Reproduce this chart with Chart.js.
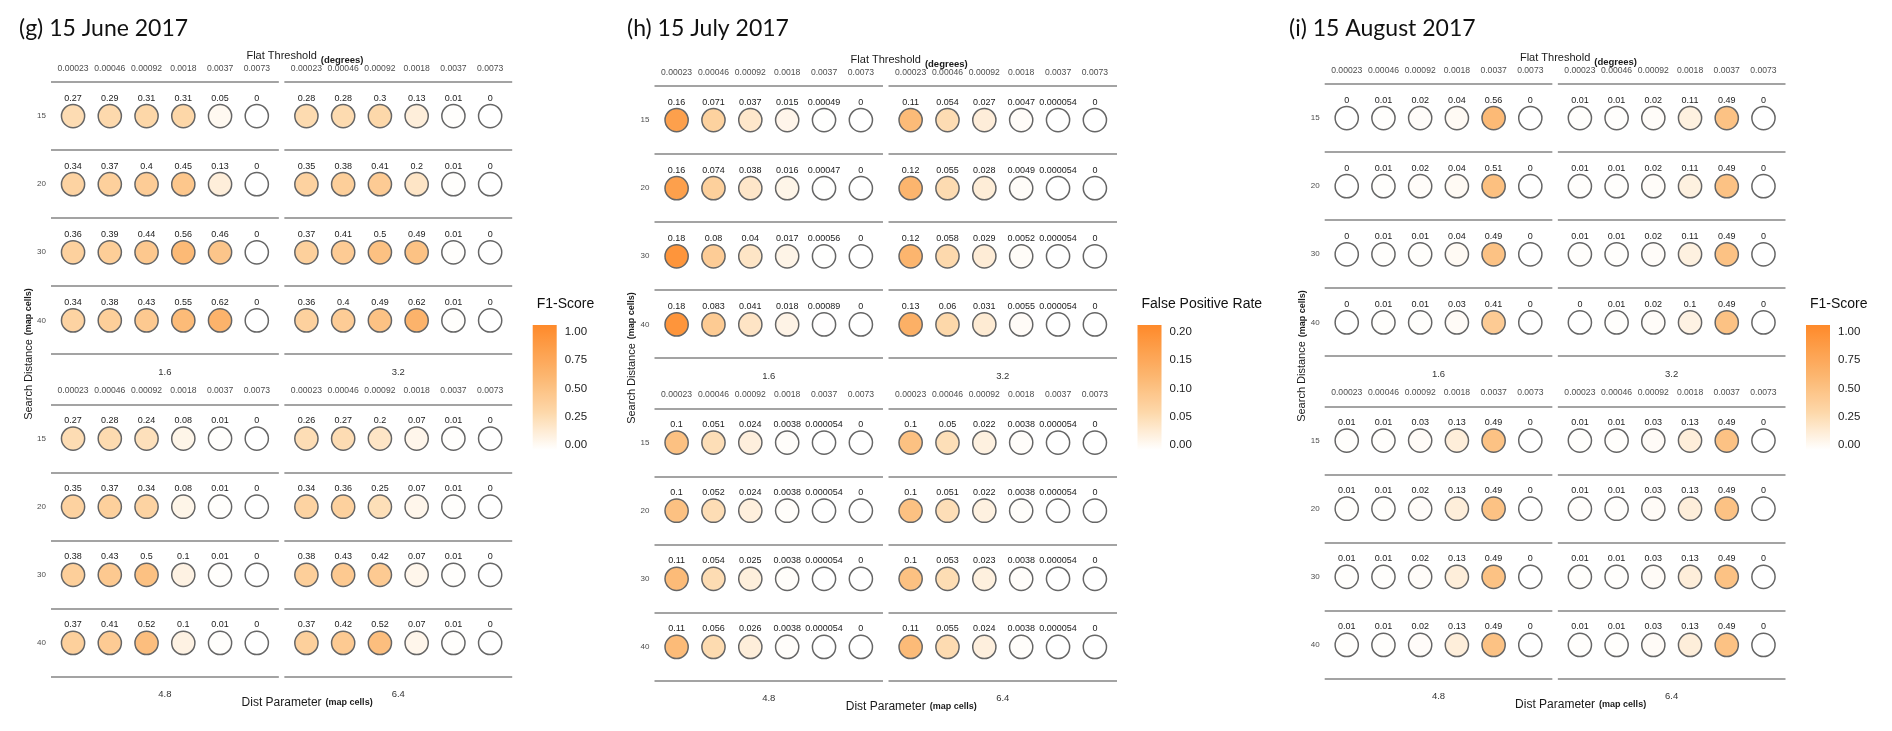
<!DOCTYPE html>
<html>
<head>
<meta charset="utf-8">
<title>F1-Score / False Positive Rate grids</title>
<script src="https://cdn.jsdelivr.net/npm/chart.js@4.4.1/dist/chart.umd.min.js"></script>
<style>
    html, body { margin: 0; padding: 0; background: #fff; }
    #wrap { position: relative; width: 1892px; height: 731px; overflow: hidden; }
    canvas { position: absolute; top: 0; }
</style>
</head>
<body>
<div id="wrap">
    <canvas id="cg" width="624" height="731" style="left:0px"></canvas>
    <canvas id="ch" width="662" height="731" style="left:624px"></canvas>
    <canvas id="ci" width="606" height="731" style="left:1286px"></canvas>
</div>
<script>
// axis categories
const thresholds = ["0.00023", "0.00046", "0.00092", "0.0018", "0.0037", "0.0073"];
const searchDistances = ["15", "20", "30", "40"];
const distParams = ["1.6", "3.2", "4.8", "6.4"];

// (g) 15 June 2017 - F1-Score, one row per search distance (15, 20, 30, 40)
const juneF1_16 = [
    [0.27, 0.29, 0.31, 0.31, 0.05, 0],
    [0.34, 0.37, 0.4, 0.45, 0.13, 0],
    [0.36, 0.39, 0.44, 0.56, 0.46, 0],
    [0.34, 0.38, 0.43, 0.55, 0.62, 0],
];
const juneF1_32 = [
    [0.28, 0.28, 0.3, 0.13, 0.01, 0],
    [0.35, 0.38, 0.41, 0.2, 0.01, 0],
    [0.37, 0.41, 0.5, 0.49, 0.01, 0],
    [0.36, 0.4, 0.49, 0.62, 0.01, 0],
];
const juneF1_48 = [
    [0.27, 0.28, 0.24, 0.08, 0.01, 0],
    [0.35, 0.37, 0.34, 0.08, 0.01, 0],
    [0.38, 0.43, 0.5, 0.1, 0.01, 0],
    [0.37, 0.41, 0.52, 0.1, 0.01, 0],
];
const juneF1_64 = [
    [0.26, 0.27, 0.2, 0.07, 0.01, 0],
    [0.34, 0.36, 0.25, 0.07, 0.01, 0],
    [0.38, 0.43, 0.42, 0.07, 0.01, 0],
    [0.37, 0.42, 0.52, 0.07, 0.01, 0],
];

// (h) 15 July 2017 - False Positive Rate
const julyFPR_16 = [
    [0.16, 0.071, 0.037, 0.015, 0.00049, 0],
    [0.16, 0.074, 0.038, 0.016, 0.00047, 0],
    [0.18, 0.08, 0.04, 0.017, 0.00056, 0],
    [0.18, 0.083, 0.041, 0.018, 0.00089, 0],
];
const julyFPR_32 = [
    [0.11, 0.054, 0.027, 0.0047, 0.000054, 0],
    [0.12, 0.055, 0.028, 0.0049, 0.000054, 0],
    [0.12, 0.058, 0.029, 0.0052, 0.000054, 0],
    [0.13, 0.06, 0.031, 0.0055, 0.000054, 0],
];
const julyFPR_48 = [
    [0.1, 0.051, 0.024, 0.0038, 0.000054, 0],
    [0.1, 0.052, 0.024, 0.0038, 0.000054, 0],
    [0.11, 0.054, 0.025, 0.0038, 0.000054, 0],
    [0.11, 0.056, 0.026, 0.0038, 0.000054, 0],
];
const julyFPR_64 = [
    [0.1, 0.05, 0.022, 0.0038, 0.000054, 0],
    [0.1, 0.051, 0.022, 0.0038, 0.000054, 0],
    [0.1, 0.053, 0.023, 0.0038, 0.000054, 0],
    [0.11, 0.055, 0.024, 0.0038, 0.000054, 0],
];

// (i) 15 August 2017 - F1-Score
const augF1_16 = [
    [0, 0.01, 0.02, 0.04, 0.56, 0],
    [0, 0.01, 0.02, 0.04, 0.51, 0],
    [0, 0.01, 0.01, 0.04, 0.49, 0],
    [0, 0.01, 0.01, 0.03, 0.41, 0],
];
const augF1_32 = [
    [0.01, 0.01, 0.02, 0.11, 0.49, 0],
    [0.01, 0.01, 0.02, 0.11, 0.49, 0],
    [0.01, 0.01, 0.02, 0.11, 0.49, 0],
    [0, 0.01, 0.02, 0.1, 0.49, 0],
];
const augF1_48 = [
    [0.01, 0.01, 0.03, 0.13, 0.49, 0],
    [0.01, 0.01, 0.02, 0.13, 0.49, 0],
    [0.01, 0.01, 0.02, 0.13, 0.49, 0],
    [0.01, 0.01, 0.02, 0.13, 0.49, 0],
];
const augF1_64 = [
    [0.01, 0.01, 0.03, 0.13, 0.49, 0],
    [0.01, 0.01, 0.03, 0.13, 0.49, 0],
    [0.01, 0.01, 0.03, 0.13, 0.49, 0],
    [0.01, 0.01, 0.03, 0.13, 0.49, 0],
];

// colour bar labels and limits
const f1Breaks = ["1.00", "0.75", "0.50", "0.25", "0.00"];
const fprBreaks = ["0.20", "0.15", "0.10", "0.05", "0.00"];
const f1Max = 1;
const fprMax = 0.2;

const FONT = '"Liberation Sans", Arial, sans-serif';
const FX = 6.2 + 0.15;   // one facet + gap, in threshold units
const FY = 4.2 + 0.535;  // one facet + gap, in search distance units
const H = 731;

// white -> orange fill, piecewise in sRGB (stop position, colour)
const PALETTE = [
    [0, [255, 255, 255]],
    [0.3, [253, 216, 170]],
    [0.6, [252, 181, 110]],
    [1, [254, 138, 42]],
];

function fillFor(t) {
    t = Math.max(0, Math.min(1, t));
    for (let i = 1; i < PALETTE.length; i++) {
        const [p0, c0] = PALETTE[i - 1];
        const [p1, c1] = PALETTE[i];
        if (t <= p1) {
            const f = (t - p0) / (p1 - p0);
            const c = c0.map((v, k) => Math.round(v + (c1[k] - v) * f));
            return `rgb(${c[0]},${c[1]},${c[2]})`;
        }
    }
    return "rgb(254,138,42)";
}

const panels = [
    {
        id: "cg", left: 0, width: 624, area: [51, 512.2, 75.2, 683.8], titleX: 19,
        title: "(g) 15 June 2017", legend: "F1-Score", max: f1Max, breaks: f1Breaks,
        facets: [juneF1_16, juneF1_32, juneF1_48, juneF1_64],
    },
    {
        id: "ch", left: 624, width: 662, area: [654.5, 1117, 79.2, 687.8], titleX: 627,
        title: "(h) 15 July 2017", legend: "False Positive Rate", max: fprMax, breaks: fprBreaks,
        facets: [julyFPR_16, julyFPR_32, julyFPR_48, julyFPR_64],
    },
    {
        id: "ci", left: 1286, width: 606, area: [1324.7, 1785.5, 77.2, 685.8], titleX: 1289,
        title: "(i) 15 August 2017", legend: "F1-Score", max: f1Max, breaks: f1Breaks,
        facets: [augF1_16, augF1_32, augF1_48, augF1_64],
    },
];

function txt(ctx, s, x, y, font, color, align) {
    ctx.font = font;
    ctx.fillStyle = color;
    ctx.textAlign = align || "center";
    ctx.textBaseline = "middle";
    ctx.fillText(s, x, y);
}

function makeDecor(p) {
    return {
        id: "decor",
        beforeDatasetsDraw(chart) {
            const { ctx } = chart;
            const xs = chart.scales.x, ys = chart.scales.y;
            ctx.save();
            ctx.strokeStyle = "#a3a3a3";
            ctx.lineWidth = 2;
            for (let fr = 0; fr < 2; fr++) {
                for (let fc = 0; fc < 2; fc++) {
                    const x0 = xs.getPixelForValue(fc * FX + 0.4);
                    const x1 = xs.getPixelForValue(fc * FX + 6.6);
                    for (let k = 0; k <= searchDistances.length; k++) {
                        const y = Math.round(ys.getPixelForValue(fr * FY + 0.5 + k));
                        ctx.beginPath();
                        ctx.moveTo(x0, y);
                        ctx.lineTo(x1, y);
                        ctx.stroke();
                    }
                }
            }
            ctx.restore();
        },
        afterDatasetsDraw(chart) {
            const { ctx, chartArea } = chart;
            const xs = chart.scales.x, ys = chart.scales.y;
            ctx.save();

            // value labels above each circle
            const meta = chart.getDatasetMeta(0);
            meta.data.forEach((el, i) => {
                const raw = chart.data.datasets[0].data[i];
                txt(ctx, String(raw.v), el.x, el.y - 18, `9px ${FONT}`, "#1a1a1a");
            });

            for (let fr = 0; fr < 2; fr++) {
                const top = ys.getPixelForValue(fr * FY + 0.4);
                const bottom = ys.getPixelForValue(fr * FY + 4.6);
                for (let fc = 0; fc < 2; fc++) {
                    // threshold tick labels on top of every facet
                    thresholds.forEach((t, c) => {
                        txt(ctx, t, xs.getPixelForValue(fc * FX + c + 1), top - 7, `8.6px ${FONT}`, "#4d4d4d");
                    });
                    // strip label under the facet
                    const cx = (xs.getPixelForValue(fc * FX + 0.4) + xs.getPixelForValue(fc * FX + 6.6)) / 2;
                    txt(ctx, distParams[fr * 2 + fc], cx, bottom + 11, `9.5px ${FONT}`, "#333");
                }
                // search distance tick labels
                searchDistances.forEach((d, r) => {
                    txt(ctx, d, chartArea.left - 5, ys.getPixelForValue(fr * FY + r + 1), `8px ${FONT}`, "#4d4d4d", "right");
                });
            }

            const midX = (chartArea.left + chartArea.right) / 2;
            const midY = (chartArea.top + chartArea.bottom) / 2;

            // top axis title
            ctx.font = `11px ${FONT}`;
            let w = ctx.measureText("Flat Threshold").width;
            const tY = ys.getPixelForValue(0.5) - 26;
            txt(ctx, "Flat Threshold", midX, tY, `11px ${FONT}`, "#1a1a1a");
            txt(ctx, "(degrees)", midX + w / 2 + 4, tY + 4, `bold 9.5px ${FONT}`, "#1a1a1a", "left");

            // bottom axis title
            ctx.font = `12px ${FONT}`;
            w = ctx.measureText("Dist Parameter").width;
            const bY = chartArea.bottom + 19;
            txt(ctx, "Dist Parameter", midX, bY, `12px ${FONT}`, "#1a1a1a");
            txt(ctx, "(map cells)", midX + w / 2 + 4, bY, `bold 9px ${FONT}`, "#1a1a1a", "left");

            // left axis title, rotated
            ctx.save();
            ctx.translate(chartArea.left - 22.5, midY);
            ctx.rotate(-Math.PI / 2);
            ctx.font = `11px ${FONT}`;
            w = ctx.measureText("Search Distance").width;
            txt(ctx, "Search Distance", 0, 0, `11px ${FONT}`, "#1a1a1a");
            txt(ctx, "(map cells)", w / 2 + 4, 0, `bold 9px ${FONT}`, "#1a1a1a", "left");
            ctx.restore();

            // panel title
            txt(ctx, p.title, p.titleX - p.left, 29, `23px Lato, ${FONT}`, "#111", "left");

            // colour bar legend
            const barX = chartArea.right + 20.5, barTop = 325, barBottom = 450, barW = 24;
            txt(ctx, p.legend, barX + 4, 304, `14px ${FONT}`, "#111", "left");
            const grad = ctx.createLinearGradient(0, barBottom, 0, barTop);
            for (let s = 0; s <= 20; s++) grad.addColorStop(s / 20, fillFor(s / 20));
            ctx.fillStyle = grad;
            ctx.fillRect(barX, barTop, barW, barBottom - barTop);
            p.breaks.forEach((b, k) => {
                txt(ctx, b, barX + barW + 8, 332 + k * 28.25, `11.5px ${FONT}`, "#222", "left");
            });

            ctx.restore();
        },
    };
}

panels.forEach((p) => {
    const points = [];
    p.facets.forEach((rows, k) => {
        const fr = Math.floor(k / 2), fc = k % 2;
        rows.forEach((vals, r) => {
            vals.forEach((v, c) => {
                points.push({ x: fc * FX + c + 1, y: fr * FY + r + 1, v: v });
            });
        });
    });

    new Chart(document.getElementById(p.id), {
        type: "scatter",
        data: {
            datasets: [
                {
                    data: points,
                    pointRadius: 11.6,
                    pointHoverRadius: 11.6,
                    borderWidth: 1.5,
                    borderColor: "#666",
                    backgroundColor: (c) => fillFor(c.raw ? c.raw.v / p.max : 0),
                },
            ],
        },
        options: {
            responsive: false,
            animation: false,
            events: [],
            layout: {
                padding: {
                    left: p.area[0] - p.left,
                    right: p.width - (p.area[1] - p.left),
                    top: p.area[2],
                    bottom: H - p.area[3],
                },
            },
            plugins: {
                legend: { display: false },
                tooltip: { enabled: false },
            },
            scales: {
                x: { type: "linear", display: false, min: 0.4, max: 0.4 + FX + 6.2 },
                y: { type: "linear", display: false, reverse: true, min: 0.4, max: 0.4 + FY + 4.2 },
            },
        },
        plugins: [makeDecor(p)],
    });
});
</script>
</body>
</html>
